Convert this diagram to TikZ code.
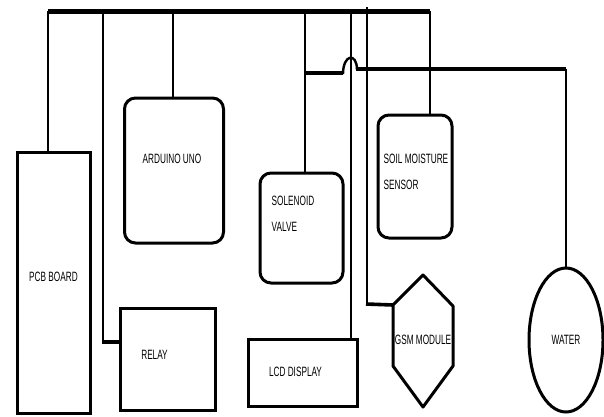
\documentclass[tikz,border=0pt]{standalone}
\usepackage{fontspec}
\setmainfont{Liberation Sans}[FakeStretch=0.61]
\usetikzlibrary{shapes.geometric}

\begin{document}
\begin{tikzpicture}[x=1pt,y=-1pt,
        box/.style={draw,line width=3pt,inner sep=0pt},
        rbox/.style={box,rounded corners=11pt},
        wire/.style={line width=1.8pt},
        hwire/.style={line width=3.6pt},
        bus/.style={line width=5pt},
        txt/.style={inner sep=0pt,font=\fontsize{13.5}{26}\selectfont,align=left}]
        \useasboundingbox (0,0) rectangle (604,416);
        % blocks
        \node [box,minimum width=73,minimum height=261,
            label={[txt,yshift=5.5pt]center:PCB BOARD}] (pcb) at (53.5,282.5) {};
        \node [rbox,minimum width=99,minimum height=145,
            label={[txt,anchor=north,xshift=-2pt,yshift=-57pt]north:ARDUINO UNO}] (ard) at (174,170.5) {};
        \node [box,minimum width=95,minimum height=102,
            label={[txt,xshift=-13pt,yshift=4pt]center:RELAY}] (rel) at (167.5,359) {};
        \node [rbox,minimum width=83,minimum height=110,
            label={[txt,anchor=north west,xshift=13pt,yshift=-24pt]north west:SOLENOID\\VALVE}] (sol) at (301.5,228) {};
        \node [box,minimum width=109,minimum height=67,
            label={[txt,xshift=-7pt,yshift=1pt]center:LCD DISPLAY}] (lcd) at (302.5,372.5) {};
        \node [rbox,minimum width=74,minimum height=123,
            label={[txt,anchor=north west,xshift=7pt,yshift=-40pt]north west:SOIL MOISTURE\\SENSOR}] (soil) at (415,176.5) {};
        \node [txt] (gsm) at (423,340) {GSM MODULE};
        \draw [line width=3pt,line join=round]
            (423,275) coordinate (gsm-t) -- (453,306) -- (453,366) -- (423,407)
            -- (393,366) -- (393,305) coordinate (gsm-ul) -- cycle;
        \node [box,ellipse,minimum width=74,minimum height=144,
            label={[txt]center:WATER}] (water) at (566,340) {};
        % supply bus
        \draw [bus] (48,11) coordinate (tpcb) -- (430,11) coordinate (tsoil);
        \coordinate (trel) at (103,11);
        \coordinate (tard) at (173,11);
        \coordinate (tsol) at (305,11);
        \coordinate (tlcd) at (351,11);
        \coordinate (tgsm) at (367,7);
        % drops
        \draw [wire] (tpcb) -- (tpcb |- pcb.north);
        \draw [wire] (tard) -- (tard |- ard.north);
        \draw [wire] (tsol) -- (tsol |- sol.north);
        \draw [wire] (tlcd) -- (tlcd |- lcd.north);
        \draw [wire] (tsoil) -- (tsoil |- soil.north);
        \draw [wire] (trel) -- (103,342);
        \draw [hwire] (102,342) -- (rel.west |- 0,342);
        \draw [wire] (tgsm) -- (367,303);
        \draw [hwire] (366,304) -- (gsm-ul);
        % branch to water, hopping over the lcd wire
        \draw [hwire] (tsol |- 0,73) -- (343,73);
        \draw [line width=2.4pt] (343,74) .. controls (343,54) and (357,52) .. (357,70);
        \draw [hwire] (356,69) -- (566,69) coordinate (twat);
        \draw [wire] (twat) -- (water.north);
\end{tikzpicture}
\end{document}
